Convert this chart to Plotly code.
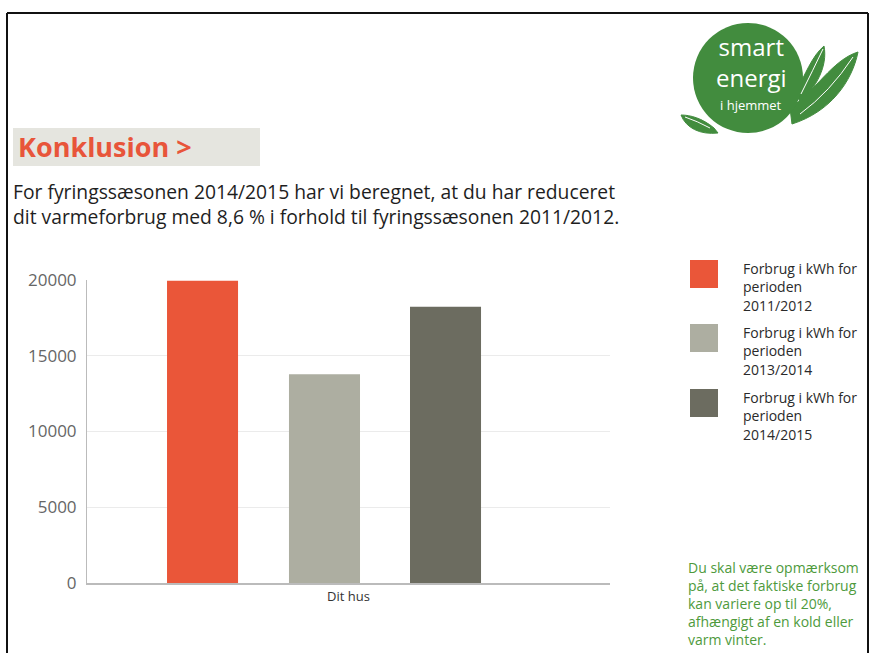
import plotly.graph_objects as go

# ---- data ----
category = ["Dit hus"]
periods = ["2011/2012", "2013/2014", "2014/2015"]
consumption_kwh = [19950, 13780, 18230]
bar_colors = ["#EA5639", "#ADAEA1", "#6C6C60"]
y_ticks = [0, 5000, 10000, 15000, 20000]
y_tick_labels = ["0", "5000", "10000", "15000", "20000"]

heading = "Konklusion >"
intro_lines = [
    "For fyringssæsonen 2014/2015 har vi beregnet, at du har reduceret",
    "dit varmeforbrug med 8,6 % i forhold til fyringssæsonen 2011/2012.",
]
note_lines = [
    "Du skal være opmærksom",
    "på, at det faktiske forbrug",
    "kan variere op til 20%,",
    "afhængigt af en kold eller",
    "varm vinter.",
]

# ---- page geometry ----
W, H = 871, 653
L, R, T, B = 87, 261, 280, 70
PW, PH = W - L - R, H - T - B


def px(x):
    return (x - L) / PW


def py(y):
    return (H - B - y) / PH


def pt(x, y):
    return f"{px(x):.5f},{py(y):.5f}"


fig = go.Figure()

# bars placed inside the single category slot
bar_width = 0.1358
bar_offsets = [-0.347, -0.1138, 0.1176]
for name, val, col, off in zip(periods, consumption_kwh, bar_colors, bar_offsets):
    fig.add_trace(go.Bar(
        x=category, y=[val], name=f"Forbrug i kWh for perioden {name}",
        marker=dict(color=col, line=dict(width=0)),
        width=bar_width, offset=off, showlegend=False,
    ))

shapes = []
annotations = []

# outer frame
for x0, y0, x1, y1 in [(7, 13, 7, H), (7, 13, 868, 13), (868, 13, 868, H)]:
    shapes.append(dict(type="line", xref="paper", yref="paper",
                       x0=px(x0), y0=py(y0), x1=px(x1), y1=py(y1),
                       line=dict(color="#111", width=2)))

# heading box
shapes.append(dict(type="rect", xref="paper", yref="paper",
                   x0=px(13), x1=px(260), y0=py(128), y1=py(166),
                   fillcolor="#E5E5DF", line=dict(width=0), layer="below"))
annotations.append(dict(text=f"<b>{heading}</b>", xref="paper", yref="paper",
                        x=px(16), y=py(147), xanchor="left", yanchor="middle",
                        showarrow=False,
                        font=dict(family="Open Sans", size=27, color="#E8553A")))

# intro paragraph
annotations.append(dict(text="<br>".join(intro_lines), xref="paper",
                        yref="paper", x=px(11), y=py(204), xanchor="left",
                        yanchor="middle", align="left", showarrow=False,
                        font=dict(family="Open Sans", size=19.3,
                                  color="#1e1e1e")))

# legend built from the series lists
legend_tops = [260, 324, 389]
for name, col, top in zip(periods, bar_colors, legend_tops):
    shapes.append(dict(type="rect", xref="paper", yref="paper",
                       x0=px(690), x1=px(718), y0=py(top), y1=py(top + 28),
                       fillcolor=col, line=dict(width=0)))
    for j, txt in enumerate(["Forbrug i kWh for", "perioden", name]):
        annotations.append(dict(text=txt, xref="paper", yref="paper",
                                x=px(741), y=py(top + 8 + 18.5 * j),
                                xanchor="left", yanchor="middle",
                                showarrow=False,
                                font=dict(family="Open Sans", size=14,
                                          color="#2a2a2a")))

# note in green
for i, line in enumerate(note_lines):
    annotations.append(dict(text=line, xref="paper", yref="paper",
                            x=px(686), y=py(567 + 18 * i), xanchor="left",
                            yanchor="middle", showarrow=False,
                            font=dict(family="Open Sans", size=14,
                                      color="#4E9A3C")))

# logo: leaves and circle
green = "#428C3E"
right_leaf = ("M " + pt(790, 108) + " C " + pt(815, 92) + " " + pt(832, 60)
              + " " + pt(858, 52) + " C " + pt(852, 82) + " " + pt(830, 112)
              + " " + pt(792, 124) + " Z")
upper_leaf = ("M " + pt(796, 92) + " C " + pt(805, 75) + " " + pt(812, 56)
              + " " + pt(824, 46) + " C " + pt(828, 66) + " " + pt(816, 88)
              + " " + pt(800, 102) + " Z")
lower_leaf = ("M " + pt(714, 128) + " C " + pt(702, 118) + " " + pt(690, 115)
              + " " + pt(681, 115) + " C " + pt(686, 128) + " " + pt(700, 135)
              + " " + pt(718, 133) + " Z")
for path in [right_leaf, upper_leaf, lower_leaf]:
    shapes.append(dict(type="path", xref="paper", yref="paper", path=path,
                       fillcolor=green, line=dict(color=green, width=1)))
shapes.append(dict(type="circle", xref="paper", yref="paper",
                   x0=px(693), x1=px(803), y0=py(23), y1=py(133),
                   fillcolor=green, line=dict(width=0)))
# leaf veins
for vein in ["M " + pt(800, 114) + " Q " + pt(830, 92) + " " + pt(853, 57),
             "M " + pt(801, 94) + " Q " + pt(813, 70) + " " + pt(823, 49),
             "M " + pt(710, 128) + " Q " + pt(697, 121) + " " + pt(685, 117)]:
    shapes.append(dict(type="path", xref="paper", yref="paper", path=vein,
                       line=dict(color="white", width=1)))

annotations.append(dict(text="smart<br>energi", xref="paper", yref="paper",
                        x=px(751), y=py(62), xanchor="center",
                        yanchor="middle", showarrow=False,
                        font=dict(family="Open Sans", size=24, color="white")))
annotations.append(dict(text="i hjemmet", xref="paper", yref="paper",
                        x=px(751), y=py(105), xanchor="center",
                        yanchor="middle", showarrow=False,
                        font=dict(family="Open Sans", size=13,
                                  color="white")))

fig.update_layout(
    width=W, height=H,
    margin=dict(l=L, r=R, t=T, b=B, pad=0),
    paper_bgcolor="white", plot_bgcolor="white",
    barmode="overlay",
    shapes=shapes, annotations=annotations,
    xaxis=dict(type="category", range=[-0.5, 0.5], showgrid=False,
               showline=True, linecolor="#BBBBBB", linewidth=2,
               ticks="", tickfont=dict(family="Open Sans", size=13,
                                       color="#333")),
    yaxis=dict(range=[0, 20000], tickvals=y_ticks, ticktext=y_tick_labels,
               showgrid=True, gridcolor="#EBEBEB", gridwidth=1,
               zeroline=False, showline=True, linecolor="#BBBBBB",
               linewidth=1, ticks="", ticklabelstandoff=6,
               tickfont=dict(family="Open Sans", size=17, color="#666")),
)

fig.write_html("out.html")
